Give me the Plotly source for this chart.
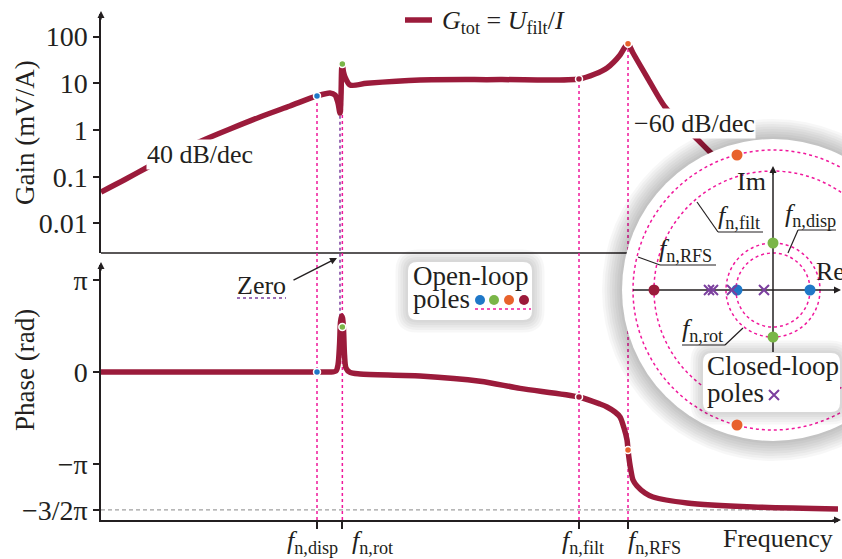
import math
import plotly.graph_objects as go

# ---- values (frequency in arbitrary units) ----
gain_freq = [0.631, 0.858, 1.151, 1.626, 2.417, 3.286, 4.825, 7.079, 10.0, 11.81,
             12.59, 13.08, 13.42, 13.60, 13.72, 13.83, 14.04, 14.31, 15.26, 18.96,
             37.35, 103.9, 285.5, 350.3, 408.5, 482.5, 514.2, 534.3, 569.6, 681.3,
             857.7, 1039, 1259, 1525, 1848]
gain_mva = [0.047, 0.087, 0.161, 0.322, 0.642, 1.05, 1.90, 3.27, 5.35, 6.20,
            5.62, 3.79, 2.31, 5.62, 21.3, 24.6, 17.4, 13.6, 9.2, 10.0,
            11.77, 12.0, 12.36, 15.8, 21.3, 40.4, 59.9, 70.0, 44.5, 13.6,
            3.11, 1.41, 0.708, 0.338, 0.170]

phase_freq = [0.631, 10.0, 11.81, 12.75, 13.08, 13.34, 13.51, 13.69, 13.86, 14.04,
              14.22, 14.49, 15.26, 17.34, 37.35, 80.5, 134.3, 285.5, 373.4, 408.5,
              452.4, 482.5, 507.6, 527.7, 534.3, 544.6, 555.2, 569.6, 599.5, 664.1,
              735.6, 1137, 2644, 7842]
phase_pi = [0.0, 0.0, 0.0, 0.011, 0.076, 0.293, 0.543, 0.609, 0.587, 0.457,
            0.185, 0.043, -0.005, -0.022, -0.043, -0.10, -0.178, -0.272, -0.348, -0.38,
            -0.435, -0.489, -0.609, -0.739, -0.848, -0.978, -1.076, -1.174, -1.239, -1.315,
            -1.359, -1.424, -1.467, -1.489]

# open-loop poles: f_n,disp, f_n,rot, f_n,filt, f_n,RFS
pole_freq = [10.0, 13.83, 285.5, 534.3]
pole_gain = [5.35, 26.0, 12.36, 70.0]
pole_phase = [0.0, 0.49, -0.272, -0.848]
pole_names = ["<i>f</i><sub>n,disp</sub>", "<i>f</i><sub>n,rot</sub>",
              "<i>f</i><sub>n,filt</sub>", "<i>f</i><sub>n,RFS</sub>"]
zero_freq = 13.42
zero_gain = 2.31
zero_phase = 0.60

gain_ticks = [0.01, 0.1, 1, 10, 100]
gain_tick_text = ["0.01", "0.1", "1", "10", "100"]
phase_ticks = [1, 0, -1, -1.5]
phase_tick_text = ["π", "0", "−π", "−3/2π"]

# s-plane inset (arbitrary units)
ol_re = [-3.6, 3.7, 0.0, 0.0, -11.9, -3.6, -3.6]
ol_im = [0.0, 0.0, 4.7, -4.7, 0.0, 13.5, -13.5]
ol_which = [0, 0, 1, 1, 2, 3, 3]
cl_re = [-6.4, -6.0, -4.1, -0.9]
cl_im = [0.0, 0.0, 0.0, 0.0]
circle_r = [3.7, 4.7, 11.9, 14.0]

# ---- style ----
FONT = "Liberation Serif"
INK = "#231f20"
MAROON = "#9b1b3b"
BLUE, GREEN, ORANGE = "#1f78c8", "#7ab648", "#e8622c"
PINK = "#f0189c"
PURPLE = "#7b3f9e"
POLE_COLORS = [BLUE, GREEN, MAROON, ORANGE]
KEY_COLORS = [BLUE, GREEN, ORANGE, MAROON]

W, H = 842, 559
ML, MT, MB = 101, 14, 39
PW, PH = W - ML, H - MT - MB


def px(x):
    return (x - ML) / PW


def py(y):
    return (H - MB - y) / PH


X_RANGE = [-0.2, 3.8944]
GAIN_RANGE = [-2.634, 2.484]
PHASE_RANGE = [-1.609, 1.163]
GAIN_DOM = [py(253), 1.0]
PHASE_DOM = [0.0, py(265)]


def gain_y(g):
    t = (math.log10(g) - GAIN_RANGE[0]) / (GAIN_RANGE[1] - GAIN_RANGE[0])
    return GAIN_DOM[0] + t * (GAIN_DOM[1] - GAIN_DOM[0])


def phase_y(p):
    t = (p - PHASE_RANGE[0]) / (PHASE_RANGE[1] - PHASE_RANGE[0])
    return PHASE_DOM[0] + t * (PHASE_DOM[1] - PHASE_DOM[0])


# inset origin in pixels, 10 px per unit
OX, OY, S = 773, 290, 10.0


def u(x):
    return (x - OX) / S


def v(y):
    return (OY - y) / S


def txt(x, y, text, xa="center", ya="middle", size=26, **kw):
    return dict(x=px(x), y=py(y), xref="paper", yref="paper", text=text,
                showarrow=False, xanchor=xa, yanchor=ya,
                font=dict(family=FONT, size=size, color=kw.pop("color", INK)), **kw)


def arrow(x, y, dx, dy):
    return dict(x=px(x), y=py(y), xref="paper", yref="paper", text="",
                showarrow=True, ax=dx, ay=dy, arrowhead=2, arrowsize=1,
                arrowwidth=1.4, arrowcolor=INK, standoff=0)


def pline(x0, y0, x1, y1, color=INK, width=1.5, dash="solid"):
    return dict(type="line", xref="paper", yref="paper", x0=px(x0), y0=py(y0),
                x1=px(x1), y1=py(y1), line=dict(color=color, width=width, dash=dash),
                layer="below")


def iline(x0, y0, x1, y1, color=INK, width=1.2, dash="solid"):
    return dict(type="line", xref="x3", yref="y4", x0=u(x0), y0=v(y0),
                x1=u(x1), y1=v(y1), line=dict(color=color, width=width, dash=dash),
                layer="below")


def rrect(x0, y0, x1, y1, r, fill):
    pts = lambda x, y: f"{u(x):.3f},{v(y):.3f}"
    path = (f"M{pts(x0 + r, y0)} L{pts(x1 - r, y0)} Q{pts(x1, y0)} {pts(x1, y0 + r)} "
            f"L{pts(x1, y1 - r)} Q{pts(x1, y1)} {pts(x1 - r, y1)} "
            f"L{pts(x0 + r, y1)} Q{pts(x0, y1)} {pts(x0, y1 - r)} "
            f"L{pts(x0, y0 + r)} Q{pts(x0, y0)} {pts(x0 + r, y0)} Z")
    return dict(type="path", xref="x3", yref="y4", path=path, fillcolor=fill,
                line=dict(width=0), layer="below")


fig = go.Figure()

# Bode curves
curve = dict(color=MAROON, width=5.5, shape="spline", smoothing=0.8)
fig.add_trace(go.Scatter(x=gain_freq, y=gain_mva, xaxis="x2", yaxis="y2", mode="lines",
                         line=curve, hoverinfo="skip"))
fig.add_trace(go.Scatter(x=phase_freq, y=phase_pi, xaxis="x2", yaxis="y3", mode="lines",
                         line=curve, hoverinfo="skip"))
dot = dict(color=POLE_COLORS, size=7, line=dict(color="white", width=1.5))
fig.add_trace(go.Scatter(x=pole_freq, y=pole_gain, xaxis="x2", yaxis="y2",
                         mode="markers", marker=dot))
fig.add_trace(go.Scatter(x=pole_freq, y=pole_phase, xaxis="x2", yaxis="y3",
                         mode="markers", marker=dot))

# inset pole map
fig.add_trace(go.Scatter(x=ol_re, y=ol_im, xaxis="x3", yaxis="y4", mode="markers",
                         marker=dict(color=[POLE_COLORS[i] for i in ol_which], size=11)))
xmark = dict(symbol="x-thin", size=10, color=PURPLE, line=dict(color=PURPLE, width=2))
fig.add_trace(go.Scatter(x=cl_re, y=cl_im, xaxis="x3", yaxis="y4", mode="markers",
                         marker=xmark))
# keys inside the two boxes
fig.add_trace(go.Scatter(x=[u(480), u(494), u(509), u(524)], y=[v(300)] * 4,
                         xaxis="x3", yaxis="y4", mode="markers",
                         marker=dict(color=KEY_COLORS, size=10)))
fig.add_trace(go.Scatter(x=[u(774)], y=[v(395)], xaxis="x3", yaxis="y4",
                         mode="markers", marker=xmark))

shapes = []
# top panel frame line and -3/2 pi reference
shapes.append(pline(101, 253, 838, 253))
shapes.append(dict(type="line", xref="paper", yref="y3", x0=0, x1=px(838), y0=-1.5, y1=-1.5,
                   line=dict(color="#a0a0a0", width=1.2, dash="4px,3px"), layer="below"))
# dotted markers of the resonances and the zero
for f, g in zip(pole_freq, pole_gain):
    shapes.append(dict(type="line", xref="x2", yref="paper", x0=f, x1=f, y0=0, y1=gain_y(g),
                       line=dict(color=PINK, width=1.5, dash="dot"), layer="below"))
shapes.append(dict(type="line", xref="x2", yref="paper", x0=zero_freq, x1=zero_freq,
                   y0=phase_y(zero_phase), y1=gain_y(zero_gain),
                   line=dict(color=PURPLE, width=1.5, dash="dot"), layer="below"))
shapes.append(pline(237, 298, 286, 298, color=PURPLE, dash="dot"))

# inset disk with soft shadow
R0 = 15.1
for k in range(1, 9):
    r = R0 + 0.25 * k
    shapes.append(dict(type="circle", xref="x3", yref="y4", x0=-r, x1=r, y0=-r, y1=r,
                       fillcolor="rgba(0,0,0,0.03)", line=dict(width=0), layer="below"))
shapes.append(dict(type="circle", xref="x3", yref="y4", x0=-R0, x1=R0, y0=-R0, y1=R0,
                   fillcolor="white", line=dict(width=0), layer="below"))
for r in circle_r:
    shapes.append(dict(type="circle", xref="x3", yref="y4", x0=-r, x1=r, y0=-r, y1=r,
                       line=dict(color=PINK, width=1.5, dash="dot"), layer="below"))
shapes.append(iline(633, 290, 836, 290, width=1.5))
shapes.append(iline(773, 352, 773, 172, width=1.5))
# leader lines of the circle labels
shapes += [iline(718, 232, 763, 232), iline(718, 232, 697, 202),
           iline(660, 265, 716, 265), iline(660, 265, 638, 257),
           iline(682, 345, 725, 345), iline(725, 345, 743, 328),
           iline(798, 230, 836, 230), iline(798, 230, 788, 253)]

# boxes with shadows
for box in [(408, 262, 532, 320), (703, 353, 840, 412)]:
    x0, y0, x1, y1 = box
    for k in range(1, 6):
        e = 2.5 * k
        shapes.append(rrect(x0 - e, y0 - e, x1 + e, y1 + e, 9 + e, "rgba(0,0,0,0.03)"))
    shapes.append(rrect(x0, y0, x1, y1, 9, "white"))
shapes.append(iline(475, 309, 531, 309, color=PINK, width=1.5, dash="dot"))
# legend line sample
shapes.append(pline(405, 20, 432, 20, color=MAROON, width=5.5))

ann = []
ann.append(txt(25, 133, "Gain (mV/A)", size=27, textangle=-90))
ann.append(txt(25, 370, "Phase (rad)", size=27, textangle=-90))
ann.append(txt(440, 22, "<i>G</i><sub>tot</sub> = <i>U</i><sub>filt</sub>/<i>I</i>", xa="left"))
ann.append(txt(200, 155, "40 dB/dec", bgcolor="white", borderpad=0))
ann.append(txt(694, 124, "−60 dB/dec", bgcolor="white", borderpad=0))
ann.append(txt(261, 285, "Zero"))
ann.append(dict(x=px(337), y=py(258), xref="paper", yref="paper", text="",
                showarrow=True, ax=-45, ay=23, arrowhead=2, arrowsize=1,
                arrowwidth=1.4, arrowcolor=INK, standoff=0))
ann.append(txt(411, 276, "Open-loop", size=27, xa="left"))
ann.append(txt(411, 299, "poles", size=27, xa="left"))
ann.append(txt(705, 366, "Closed-loop", size=27, xa="left"))
ann.append(txt(705, 393, "poles", size=27, xa="left"))
ann.append(txt(721, 538, "Frequency", xa="left"))
ann.append(txt(751, 181, "Im"))
ann.append(txt(814, 272, "Re", xa="left"))
# frequency tick labels
ann.append(txt(312, 524, pole_names[0], ya="top"))
ann.append(txt(350, 524, pole_names[1], xa="left", ya="top"))
ann.append(txt(583, 524, pole_names[2], ya="top"))
ann.append(txt(626, 524, pole_names[3], xa="left", ya="top"))
# circle labels in the inset
ann.append(txt(716, 235, pole_names[2], xa="left", ya="bottom"))
ann.append(txt(657, 268, pole_names[3], xa="left", ya="bottom"))
ann.append(txt(680, 348, pole_names[1], xa="left", ya="bottom"))
ann.append(txt(783, 233, pole_names[0], xa="left", ya="bottom"))
# axis arrowheads
ann += [arrow(101, 11, 0, 10), arrow(101, 262, 0, 10), arrow(841, 520, -10, 0),
        arrow(842, 290, -10, 0), arrow(773, 166, 0, 10)]

axis_common = dict(showline=True, linecolor=INK, linewidth=1.5, showgrid=False,
                   zeroline=False, ticks="outside", tickcolor=INK, tickwidth=1.5,
                   tickfont=dict(family=FONT, size=28, color=INK))

fig.update_layout(
    width=W, height=H, template="none", showlegend=False,
    paper_bgcolor="white", plot_bgcolor="rgba(0,0,0,0)",
    margin=dict(l=ML, r=0, t=MT, b=MB),
    font=dict(family=FONT, color=INK),
    xaxis2=dict(type="log", range=X_RANGE, domain=[0, px(838)], anchor="y3",
                tickvals=pole_freq, showticklabels=False, ticklen=7, **axis_common),
    yaxis2=dict(type="log", range=GAIN_RANGE, domain=GAIN_DOM, anchor="x2",
                tickvals=gain_ticks, ticktext=gain_tick_text, ticklen=6, **axis_common),
    yaxis3=dict(range=PHASE_RANGE, domain=PHASE_DOM, anchor="x2",
                tickvals=phase_ticks, ticktext=phase_tick_text, ticklen=6, **axis_common),
    xaxis3=dict(range=[u(ML), u(W)], domain=[0, 1], anchor="y4", visible=False),
    yaxis4=dict(range=[v(H - MB), v(MT)], domain=[0, 1], anchor="x3", visible=False),
    shapes=shapes, annotations=ann,
)

fig.write_html("out.html", config={"displayModeBar": False},
               post_script="document.body.style.margin = '0';")
